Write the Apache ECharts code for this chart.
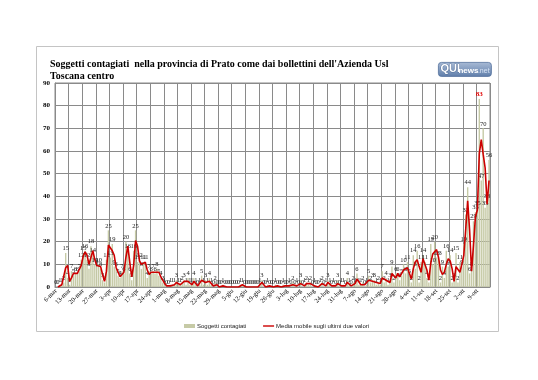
<!DOCTYPE html>
<html><head><meta charset="utf-8">
<script src="https://cdn.jsdelivr.net/npm/echarts/dist/echarts.min.js"></script>
<style>html,body{margin:0;padding:0;background:#fff}#c{width:538px;height:380px}</style>
</head><body><div id="c"></div>
<script>
// ---- data ----
const startDay = { year: 2020, month: 2, day: 6 }; // 6-mar-2020
const dayCount = 224;
const monthNames = ['gen','feb','mar','apr','mag','giu','lug','ago','set','ott','nov','dic'];

const casi = [
 0,0,1,1,2,15,4,1,7,5, 6,6,7,12,15,16,12,8,18,14,
 10,9,10,8,3,2,12,25,13,19, 9,8,5,4,7,6,20,16,6,3,
 16,25,11,12,8,11,11,4,7,6, 7,6,8,5,4,2,1,0,0,1,
 1,1,3,1,1,2,3,1,4,1, 1,4,1,0,1,5,1,3,1,4,
 1,0,2,0,0,0,1,0,0,0, 0,0,0,0,0,1,1,0,0,0,
 0,0,0,0,0,1,3,0,0,1, 0,0,0,1,0,0,0,1,0,0,
 1,0,2,0,1,0,3,0,1,2, 1,2,0,1,0,0,1,2,0,1,
 3,1,0,1,0,3,0,1,1,0, 4,1,0,2,1,6,1,1,2,0,
 1,5,2,3,3,1,2,1,7,2, 4,1,3,9,2,6,6,3,5,10,
 6,11,5,2,14,8,16,2,11,14, 11,4,2,19,10,20,13,13,2,9,
 4,16,9,14,2,3,15,2,11,9, 19,32,44,6,8,29,33,35,83,47,
 70,35,38,56
];

const mediaMobile = [
 null,0,0.5,1,1.5,8.5,9.5,2.5,4,6, 5.5,6,6.5,9.5,13.5,15.5,14,10,13,16,
 12,9.5,9.5,9,5.5,2.5,7,18.5,19,16, 14,8.5,6.5,4.5,5.5,6.5,13,18,11,4.5,
 9.5,20.5,18,11.5,10,9.5,11,7.5,5.5,6.5, 6.5,6.5,7,6.5,4.5,3,1.5,0.5,0,0.5,
 1,1,2,2,1,1.5,2.5,2,2.5,2.5, 1,2.5,2.5,0.5,0.5,3,3,2,2,2.5,
 2.5,0.5,1,1,0,0,0.5,0.5,0,0, 0,0,0,0,0,0.5,1,0.5,0,0,
 0,0,0,0,0,0.5,2,1.5,0,0.5, 0.5,0,0,0.5,0.5,0,0,0.5,0.5,0,
 0.5,0.5,1,1,0.5,0.5,1.5,1.5,0.5,1.5, 1.5,1.5,1,0.5,0.5,0,0.5,1.5,1,0.5,
 2,2,0.5,0.5,0.5,1.5,1.5,0.5,1,0.5, 2,2.5,0.5,1,1.5,3.5,3.5,1,1.5,1,
 0.5,3,3.5,2.5,3,2,1.5,1.5,4,4.5, 3,2.5,2,6,5.5,4,6,4.5,4,7.5,
 8,8.5,8,3.5,8,11,12,9,6.5,12.5, 12.5,7.5,3,10.5,14.5,15,16.5,13,7.5,5.5,
 6.5,10,12.5,11.5,8,2.5,9,8.5,6.5,10, 14,25.5,38,25,7,18.5,31,34,59,65,
 58.5,52.5,36.5,47
];

const yMin = 0, yMax = 90, yStep = 10;
const titleLines = ["Soggetti contagiati  nella provincia di Prato come dai bollettini dell'Azienda Usl", "Toscana centro"];
const seriesNames = ['Soggetti contagiati', 'Media mobile sugli ultimi due valori'];

// categories (calendar dates)
const categorie = [];
for (let i = 0; i < dayCount; i++) {
  const d = new Date(Date.UTC(startDay.year, startDay.month, startDay.day + i));
  categorie.push(d.getUTCDate() + '-' + monthNames[d.getUTCMonth()]);
}
const maxVal = Math.max.apply(null, casi);

const chart = echarts.init(document.getElementById('c'), null, { renderer: 'canvas' });
chart.setOption({
  backgroundColor: '#ffffff',
  animation: false,
  title: {
    text: titleLines.join('\n'),
    left: 50, top: 59,
    textStyle: { fontFamily: 'Liberation Serif', fontWeight: 'bold', fontSize: 10, lineHeight: 11.5, color: '#000' },
    padding: 0
  },
  graphic: [
    { type: 'rect', shape: { x: 36.5, y: 46.5, width: 462, height: 285 }, style: { fill: 'none', stroke: '#c4c4c4', lineWidth: 1 }, silent: true },
    { type: 'group', left: 438, top: 62, children: [
      { type: 'rect', shape: { x: 0, y: 0, width: 53, height: 14, r: 3 },
        style: { fill: new echarts.graphic.LinearGradient(0, 0, 0, 1, [{ offset: 0, color: '#a9bbd6' }, { offset: 1, color: '#5f7eaa' }]), stroke: '#52709c', lineWidth: 0.8 } },
      { type: 'text', x: 2, y: 1.5, style: { text: 'QUI', font: 'bold 11px Liberation Sans', fill: '#ffffff', stroke: '#3b5886', lineWidth: 0.6 } },
      { type: 'text', x: 20, y: 4.5, style: { text: 'news', font: 'bold 8px Liberation Sans', fill: '#ffffff' } },
      { type: 'text', x: 39.5, y: 5.5, style: { text: '.net', font: '7px Liberation Sans', fill: '#d7e4f6' } }
    ]}
  ],
  legend: {
    left: 179, top: 318,
    itemWidth: 11, itemHeight: 4, itemGap: 16,
    textStyle: { fontFamily: 'Liberation Sans Narrow, Liberation Sans', fontSize: 6, color: '#222', padding: [0, 0, 0, -3] },
    data: [
      { name: seriesNames[0], icon: 'rect' },
      { name: seriesNames[1], itemStyle: { color: 'rgba(0,0,0,0)', borderWidth: 0 }, lineStyle: { color: '#cc0000', width: 1.4 } }
    ]
  },
  grid: { left: 55, top: 83, width: 435, height: 204, show: true, borderColor: '#8a8a8a', borderWidth: 1, containLabel: false },
  xAxis: {
    type: 'category',
    data: categorie,
    boundaryGap: true,
    axisLine: { show: true, lineStyle: { color: '#8a8a8a' } },
    axisTick: { show: false, interval: 6 },
    splitLine: { show: true, interval: 6, lineStyle: { color: '#8a8a8a', width: 1 } },
    axisLabel: { interval: 6, rotate: 45, fontSize: 6.5, fontFamily: 'Liberation Serif', color: '#000', margin: 3 }
  },
  yAxis: {
    type: 'value', min: yMin, max: yMax, interval: yStep,
    axisLine: { show: true, lineStyle: { color: '#8a8a8a' } },
    axisTick: { show: false },
    splitLine: { show: true, lineStyle: { color: '#8a8a8a', width: 1 } },
    axisLabel: { fontSize: 7, fontWeight: 'bold', fontFamily: 'Liberation Serif', color: '#000', margin: 5 }
  },
  series: [
    {
      name: seriesNames[0], type: 'bar',
      data: casi.map(v => v === maxVal ? { value: v, label: { color: '#e00000', fontWeight: 'bold', fontSize: 7 } } : v),
      barWidth: 1.4,
      itemStyle: { color: '#c6caa6' },
      label: { show: true, position: 'top', distance: 1, fontSize: 6.5, fontFamily: 'Liberation Serif', color: '#222' },
      z: 2
    },
    {
      name: seriesNames[1], type: 'line',
      data: mediaMobile,
      symbol: 'none', showSymbol: false,
      lineStyle: { color: '#cc0000', width: 1.6 },
      itemStyle: { color: '#cc0000' },
      z: 3
    }
  ]
});
</script>
</body></html>
